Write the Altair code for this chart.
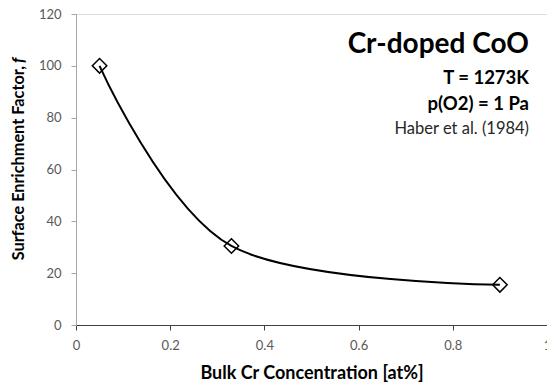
import altair as alt
import pandas as pd

# Surface enrichment of Cr in CoO vs. bulk concentration
conc = [0.05, 0.33, 0.9]          # bulk Cr concentration [at%]
factor = [100, 30.5, 15.5]        # surface enrichment factor f
x_ticks = [0, 0.2, 0.4, 0.6, 0.8, 1.0]
y_ticks = [0, 20, 40, 60, 80, 100, 120]

title_main = "Cr-doped CoO"
cond_temp = "T = 1273K"
cond_press = "p(O2) = 1 Pa"
source = "Haber et al. (1984)"
y_title_main = "Surface Enrichment Factor,"
y_title_sym = "f"
x_title = "Bulk Cr Concentration [at%]"

df = pd.DataFrame({"conc": conc, "factor": factor})

FONT = "Lato"
LABEL_GREY = "#595959"

x_enc = alt.X(
    "conc:Q",
    scale=alt.Scale(domain=[0, 1], nice=False, zero=False),
    axis=alt.Axis(
        values=x_ticks, format=".1~f", grid=False, title=x_title,
        domainColor="#404040", tickColor="#404040", tickSize=5,
        labelFont=FONT, labelFontSize=13, labelColor=LABEL_GREY, labelPadding=9,
        titleFont=FONT, titleFontSize=18, titleFontWeight="bold",
        titleColor="black", titlePadding=12,
        labelFlush=False, labelOverlap=False,
    ),
)
y_enc = alt.Y(
    "factor:Q",
    scale=alt.Scale(domain=[0, 120], nice=False),
    axis=alt.Axis(
        values=y_ticks, format="d", grid=False, title=None,
        domainColor="#A6A6A6", tickColor="#A6A6A6", tickSize=5,
        labelFont=FONT, labelFontSize=13, labelColor=LABEL_GREY, labelPadding=10,
    ),
)

base = alt.Chart(df).encode(x=x_enc, y=y_enc)

# smooth curve through the measured points, open diamond markers on top
curve = base.mark_line(interpolate="cardinal", tension=0, color="black", strokeWidth=2)
markers = base.mark_point(shape="diamond", size=210, filled=False,
                          stroke="black", strokeWidth=1.5, opacity=1)

one = alt.Data(values=[{"k": 0}])


def note(text, y, size, weight="normal", color="black"):
    return alt.Chart(one).mark_text(
        text=text, font=FONT, fontSize=size, fontWeight=weight, color=color,
        align="right", baseline="alphabetic",
    ).encode(x=alt.value(453), y=alt.value(y))


def y_title_piece(text, y, align, style="normal"):
    return alt.Chart(one).mark_text(
        text=text, font=FONT, fontSize=16.3, fontWeight="bold", fontStyle=style,
        color="black", angle=270, align=align, baseline="alphabetic",
    ).encode(x=alt.value(-52), y=alt.value(y))


chart = alt.layer(
    curve,
    markers,
    note(title_main, 39, 28, "bold"),
    note(cond_temp, 70, 18.5, "bold"),
    note(cond_press, 96, 18.5, "bold"),
    note(source, 120, 16.5, "normal", "#262626"),
    y_title_piece(y_title_main, 52, "right"),
    y_title_piece(y_title_sym, 49, "left", "italic"),
).properties(
    width=471, height=311,
    autosize="none",
    padding={"left": 76, "top": 14, "right": 0, "bottom": 60},
).configure_view(stroke=None).configure(background="white")

chart.save("out.html", embed_options={"renderer": "svg", "actions": False})
